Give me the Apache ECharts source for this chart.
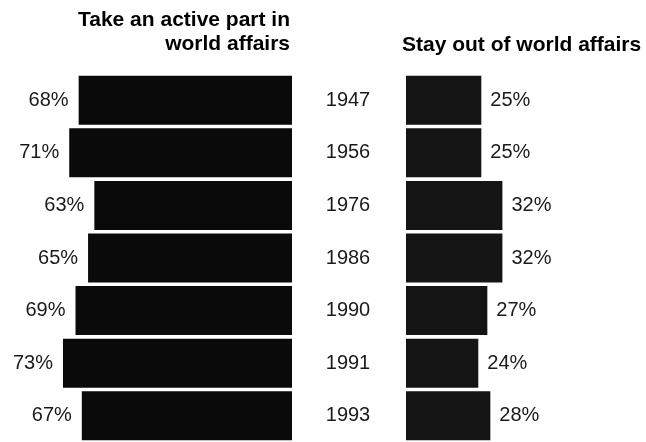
<!DOCTYPE html>
<html>
<head>
<meta charset="utf-8">
<script src="https://cdn.jsdelivr.net/npm/echarts@6/dist/echarts.min.js"></script>
<style>
html,body{margin:0;padding:0;background:#fff;}
#chart{width:646px;height:442px;}
</style>
</head>
<body>
<div id="chart"></div>
<script>
var years = ['1947', '1956', '1976', '1986', '1990', '1991', '1993'];
var activePart = [68, 71, 63, 65, 69, 73, 67];
var stayOut = [25, 25, 32, 32, 27, 24, 28];
var leftTitle = ['Take an active part in', 'world affairs'];
var rightTitle = 'Stay out of world affairs';

var FONT = '"Liberation Sans", Arial, Helvetica, sans-serif';
var chart = echarts.init(document.getElementById('chart'), null, {renderer: 'canvas'});

chart.setOption({
  animation: false,
  backgroundColor: '#fff',
  grid: [
    {left: 41, width: 251, top: 74, height: 370, containLabel: false},
    {left: 406, width: 120.5, top: 74, height: 370, containLabel: false}
  ],
  xAxis: [
    {gridIndex: 0, type: 'value', min: 0, max: 80, inverse: true, show: false},
    {gridIndex: 1, type: 'value', min: 0, max: 40, show: false}
  ],
  yAxis: [
    {gridIndex: 0, type: 'category', data: years, inverse: true, show: false},
    {gridIndex: 1, type: 'category', data: years, inverse: true,
     axisLine: {show: false}, axisTick: {show: false},
     axisLabel: {show: true, align: 'center', margin: 58, color: '#1a1a1a',
       fontFamily: FONT, fontSize: 20}}
  ],
  graphic: [
    {type: 'text', x: 290, y: 20, style: {text: leftTitle[0], align: 'right', verticalAlign: 'middle',
      font: 'bold 21px ' + FONT, fill: '#000'}},
    {type: 'text', x: 290, y: 44, style: {text: leftTitle[1], align: 'right', verticalAlign: 'middle',
      font: 'bold 21px ' + FONT, fill: '#000'}},
    {type: 'text', x: 402, y: 45, style: {text: rightTitle, align: 'left', verticalAlign: 'middle',
      font: 'bold 21px ' + FONT, fill: '#000'}}
  ],
  series: [
    {type: 'bar', xAxisIndex: 0, yAxisIndex: 0, data: activePart, barWidth: 49,
     itemStyle: {color: '#0a0a0a'},
     label: {show: true, position: 'left', distance: 10, formatter: '{c}%',
       color: '#1a1a1a', fontFamily: FONT, fontSize: 20}},
    {type: 'bar', xAxisIndex: 1, yAxisIndex: 1, data: stayOut, barWidth: 49,
     itemStyle: {color: '#141414'},
     label: {show: true, position: 'right', distance: 9, formatter: '{c}%',
       color: '#1a1a1a', fontFamily: FONT, fontSize: 20}}
  ]
});
</script>
</body>
</html>
